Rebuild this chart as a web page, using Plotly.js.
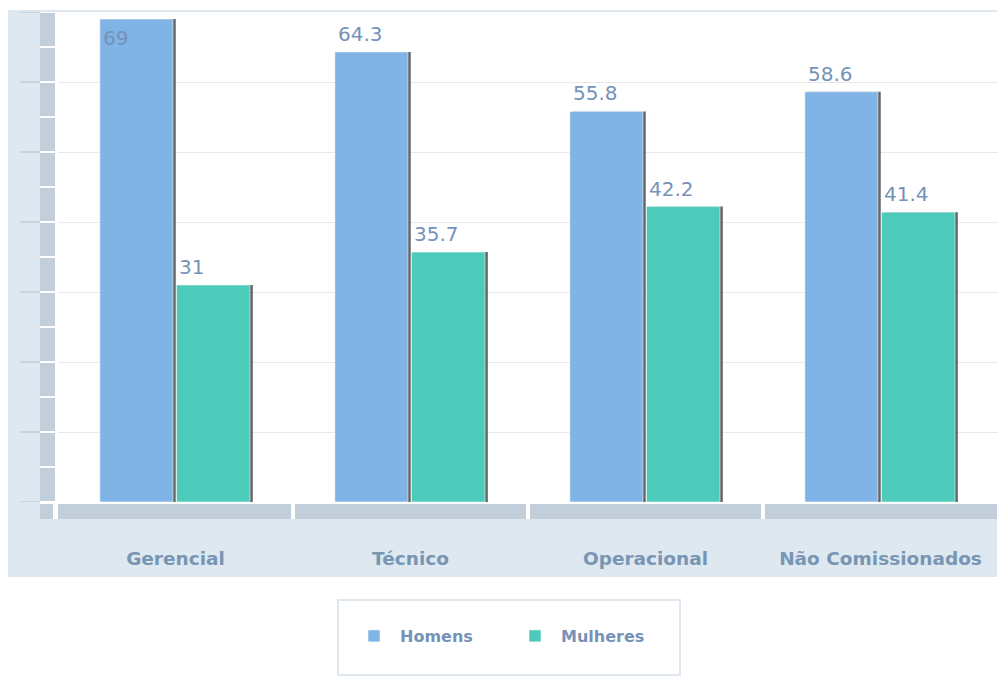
<!DOCTYPE html>
<html>
<head>
<meta charset="utf-8">
<script src="https://cdn.plot.ly/plotly-3.0.1.min.js"></script>
<style>html,body{margin:0;padding:0;background:#fff;}#chart{width:999px;height:676px;}</style>
</head>
<body>
<div id="chart"></div>
<script>
const categories = ['Gerencial', 'Técnico', 'Operacional', 'Não Comissionados'];
const homens = [69, 64.3, 55.8, 58.6];
const mulheres = [31, 35.7, 42.2, 41.4];
const seriesNames = ['Homens', 'Mulheres'];
const yTicks = [0, 10, 20, 30, 40, 50, 60, 70];

const W = 999, H = 676;
const M = {l: 58, r: 1, t: 12, b: 174};
const PW = W - M.l - M.r, PH = H - M.t - M.b;
const yMax = 70;
const px = v => (v - M.l) / PW;
const py = v => (H - M.b - v) / PH;

const FONT = 'DejaVu Sans';
const labelColor = '#7592b8';
const colors = ['#80b3e6', '#4ccbbb'];
const offsets = [-0.322, 0.004];
const widths = [0.311, 0.313];
const shadowShift = 0.012;
const values = [homens, mulheres];

const traces = [];
values.forEach((vals, s) => {
  traces.push({
    type: 'bar', x: categories, y: vals, offset: offsets[s] + shadowShift, width: widths[s],
    marker: {color: 'rgba(60,62,66,0.8)'}, showlegend: false, hoverinfo: 'skip'
  });
});
values.forEach((vals, s) => {
  traces.push({
    type: 'bar', name: seriesNames[s], x: categories, y: vals, offset: offsets[s], width: widths[s],
    marker: {color: colors[s], line: {color: 'rgba(255,255,255,0.55)', width: 1}}
  });
});

const annotations = [];
values.forEach((vals, s) => {
  vals.forEach((v, i) => {
    const inside = v + 3.5 > yMax;
    annotations.push({
      xref: 'x', yref: 'y', x: i + offsets[s], y: v, text: String(v), showarrow: false,
      xanchor: 'left', yanchor: inside ? 'top' : 'bottom', xshift: 1, yshift: inside ? -5 : 4,
      font: {family: FONT, size: 20, color: labelColor}
    });
  });
});

const shapes = [];
shapes.push({type: 'rect', xref: 'paper', yref: 'paper', x0: px(8), x1: px(997), y0: py(577), y1: py(10),
  fillcolor: '#dde8f0', line: {width: 0}, layer: 'below'});
shapes.push({type: 'rect', xref: 'paper', yref: 'paper', x0: px(40), x1: px(997), y0: py(519), y1: py(12),
  fillcolor: '#ffffff', line: {width: 0}, layer: 'below'});
const seg = 5, gapU = 1 / (PH / yMax);
for (let k = 0; k < yMax / seg; k++) {
  shapes.push({type: 'rect', xref: 'paper', yref: 'y', x0: px(40), x1: px(55),
    y0: k * seg + gapU, y1: (k + 1) * seg - gapU, fillcolor: '#c3cedb', line: {width: 0}, layer: 'below'});
}
yTicks.forEach(t => {
  shapes.push({type: 'line', xref: 'paper', yref: 'y', x0: px(20), x1: px(40), y0: t, y1: t,
    line: {color: '#b4c0cd', width: 1}, layer: 'below'});
});
const gp = 2 / PW;
shapes.push({type: 'rect', xref: 'paper', yref: 'paper', x0: px(40), x1: px(53), y0: py(519), y1: py(504),
  fillcolor: '#c3cedb', line: {width: 0}, layer: 'below'});
categories.forEach((c, i) => {
  const n = categories.length;
  shapes.push({type: 'rect', xref: 'paper', yref: 'paper',
    x0: i === 0 ? 0 : i / n + gp, x1: i === n - 1 ? px(997) : (i + 1) / n - gp,
    y0: py(519), y1: py(504), fillcolor: '#c3cedb', line: {width: 0}, layer: 'below'});
});
shapes.push({type: 'rect', xref: 'paper', yref: 'paper', x0: px(338), x1: px(680), y0: py(675), y1: py(600),
  fillcolor: '#ffffff', line: {color: '#dfe8f0', width: 2}, layer: 'below'});

const layout = {
  width: W, height: H,
  margin: {l: M.l, r: M.r, t: M.t, b: M.b, autoexpand: false},
  paper_bgcolor: '#ffffff', plot_bgcolor: 'rgba(0,0,0,0)',
  barmode: 'overlay',
  font: {family: FONT, color: labelColor},
  xaxis: {type: 'category', range: [-0.5, 3.5], showgrid: false, zeroline: false, showline: false,
    ticks: '', ticklabelstandoff: 43, tickfont: {family: FONT, size: 18.5, weight: 'bold', color: '#7896b4'}, fixedrange: true},
  yaxis: {range: [0, yMax], tickvals: yTicks, showgrid: true, gridcolor: '#e8e8e8', gridwidth: 1,
    zeroline: false, showline: false, showticklabels: false, ticks: '', fixedrange: true},
  showlegend: true,
  legend: {orientation: 'h', x: px(509), xanchor: 'center', y: py(636), yanchor: 'middle',
    font: {family: FONT, size: 16, weight: 'bold', color: '#7592b8'}, bgcolor: 'rgba(0,0,0,0)', borderwidth: 0,
    itemwidth: 42, entrywidth: 104, traceorder: 'normal'},
  shapes: shapes,
  annotations: annotations
};

Plotly.newPlot('chart', traces, layout, {displayModeBar: false, staticPlot: true});
</script>
</body>
</html>
